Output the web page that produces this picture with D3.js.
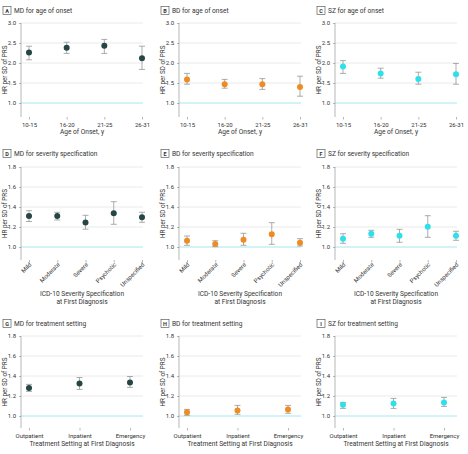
<!DOCTYPE html>
<html><head><meta charset="utf-8">
<script src="https://cdn.jsdelivr.net/npm/d3@7"></script>
<style>body{margin:0;background:#fff}svg{display:block}text{font-family:Roboto,"Liberation Sans",sans-serif;fill:#333}</style>
</head><body><div id="c"></div>
<script>
const ageCats = ["10-15","16-20","21-25","26-31"];
const sevCats = ["Mild","Moderate","Severe","Psychotic","Unspecified"];
const setCats = ["Outpatient","Inpatient","Emergency"];

const mdAge = [2.26,2.38,2.43,2.12], mdAgeLo=[2.08,2.24,2.24,1.84], mdAgeHi=[2.42,2.52,2.59,2.42];
const bdAge = [1.59,1.47,1.47,1.40], bdAgeLo=[1.47,1.37,1.34,1.17], bdAgeHi=[1.74,1.59,1.61,1.67];
const szAge = [1.91,1.74,1.60,1.72], szAgeLo=[1.74,1.62,1.47,1.47], szAgeHi=[2.06,1.87,1.77,1.99];

const mdSev = [1.31,1.31,1.245,1.337,1.297], mdSevLo=[1.255,1.27,1.178,1.227,1.247], mdSevHi=[1.363,1.347,1.317,1.453,1.347];
const bdSev = [1.063,1.03,1.073,1.127,1.043], bdSevLo=[1.017,1.003,1.017,1.027,1.01], bdSevHi=[1.11,1.063,1.137,1.243,1.083];
const szSev = [1.083,1.133,1.113,1.203,1.113], szSevLo=[1.037,1.097,1.047,1.097,1.067], szSevHi=[1.133,1.167,1.177,1.313,1.157];

const mdSet = [1.279,1.326,1.336], mdSetLo=[1.246,1.266,1.286], mdSetHi=[1.316,1.385,1.395];
const bdSet = [1.037,1.056,1.066], bdSetLo=[1.007,1.017,1.027], bdSetHi=[1.066,1.106,1.106];
const szSet = [1.113,1.126,1.136], szSetLo=[1.076,1.076,1.096], szSetHi=[1.136,1.176,1.186];

const ageTicks=[1.0,1.5,2.0,2.5,3.0];
const smallTicks=[1.0,1.2,1.4,1.6,1.8];

const colMD="#264545", colBD="#ee8c22", colSZ="#2fe0ea";

const panels = [
 {L:"A",t:"MD for age of onset",cats:ageCats,v:mdAge,lo:mdAgeLo,hi:mdAgeHi,c:colMD,row:0,col:0},
 {L:"B",t:"BD for age of onset",cats:ageCats,v:bdAge,lo:bdAgeLo,hi:bdAgeHi,c:colBD,row:0,col:1},
 {L:"C",t:"SZ for age of onset",cats:ageCats,v:szAge,lo:szAgeLo,hi:szAgeHi,c:colSZ,row:0,col:2},
 {L:"D",t:"MD for severity specification",cats:sevCats,v:mdSev,lo:mdSevLo,hi:mdSevHi,c:colMD,row:1,col:0},
 {L:"E",t:"BD for severity specification",cats:sevCats,v:bdSev,lo:bdSevLo,hi:bdSevHi,c:colBD,row:1,col:1},
 {L:"F",t:"SZ for severity specification",cats:sevCats,v:szSev,lo:szSevLo,hi:szSevHi,c:colSZ,row:1,col:2},
 {L:"G",t:"MD for treatment setting",cats:setCats,v:mdSet,lo:mdSetLo,hi:mdSetHi,c:colMD,row:2,col:0},
 {L:"H",t:"BD for treatment setting",cats:setCats,v:bdSet,lo:bdSetLo,hi:bdSetHi,c:colBD,row:2,col:1},
 {L:"I",t:"SZ for treatment setting",cats:setCats,v:szSet,lo:szSetLo,hi:szSetHi,c:colSZ,row:2,col:2},
];

const rows = [
 {titleY:11, top:23, ref:103, bottom:117, dom:[0.65,3.0], ticks:ageTicks, xlab:["Age of Onset, y"], labY:125, xtY:134, rot:false, padR:1},
 {titleY:154, top:167, ref:247, bottom:260, dom:[0.87,1.8], ticks:smallTicks, xlab:["ICD-10 Severity Specification","at First Diagnosis"], rot:true, xtY:296, padR:1},
 {titleY:324, top:336, ref:416, bottom:428, dom:[0.88,1.8], ticks:smallTicks, xlab:["Treatment Setting at First Diagnosis"], labY:436, xtY:446, rot:false, padR:13},
];
const colX=[21,179,335];
const plotW=122;
const fmt=d3.format(".1f");

const svg=d3.select("#c").append("svg").attr("width",468).attr("height",454);

panels.forEach(p=>{
  const r=rows[p.row], x0=colX[p.col];
  const g=svg.append("g");
  const y=d3.scaleLinear().domain(r.dom).range([r.bottom,r.bottom-(r.bottom-r.ref)*(r.dom[1]-r.dom[0])/(1-r.dom[0])]);
  const x=d3.scalePoint().domain(p.cats).range([x0+8,x0+plotW-r.padR]);
  const tx=x0-18;
  g.append("rect").attr("x",tx).attr("y",r.titleY-4.5).attr("width",8).attr("height",8).attr("fill","#fff").attr("stroke","#444").attr("stroke-width",0.6);
  g.append("text").attr("x",tx+4).attr("y",r.titleY+2.3).attr("text-anchor","middle").attr("font-size",5.5).attr("font-weight","bold").text(p.L);
  g.append("text").attr("x",tx+11).attr("y",r.titleY+2.3).attr("font-size",6.6).text(p.t);
  g.selectAll(".grid").data(r.ticks.filter(t=>t!==1)).enter().append("line")
    .attr("x1",x0).attr("x2",x0+plotW).attr("y1",d=>y(d)).attr("y2",d=>y(d)).attr("stroke","#e4e4e4").attr("stroke-width",0.8);
  g.append("line").attr("x1",x0).attr("x2",x0+plotW).attr("y1",y(1)).attr("y2",y(1)).attr("stroke","#a6e6ee").attr("stroke-width",1);
  const ya=g.append("g").attr("transform",`translate(${x0},0)`).call(d3.axisLeft(y).tickValues(r.ticks).tickFormat(fmt).tickSize(2).tickPadding(3));
  ya.select(".domain").attr("d",`M-0,${y(r.dom[1])}V${r.bottom}`).attr("stroke","#888").attr("stroke-width",0.6);
  ya.selectAll(".tick line").attr("stroke","#888").attr("stroke-width",0.6);
  ya.selectAll(".tick text").attr("font-size",6).attr("font-family","Roboto,sans-serif").attr("fill","#333");
  g.append("text").attr("transform",`translate(${x0-14},${(r.top+r.bottom)/2}) rotate(-90)`).attr("text-anchor","middle").attr("font-size",6.3).text("HR per SD of PRS");
  const xa=g.append("g").attr("transform",`translate(0,${r.bottom})`).call(d3.axisBottom(x).tickSize(2.5).tickPadding(3));
  xa.select(".domain").remove();
  xa.selectAll(".tick line").attr("stroke","#888").attr("stroke-width",0.6);
  const tt=xa.selectAll(".tick text").attr("font-size",6).attr("font-family","Roboto,sans-serif").attr("fill","#333");
  if(r.rot){
    tt.attr("text-anchor","end").attr("dy",null).attr("y",0).attr("transform","translate(2.5,5) rotate(-45)");
  } else {
    tt.attr("y",r.labY-r.bottom-2);
  }
  r.xlab.forEach((s,i)=>{
    g.append("text").attr("x",x0+plotW/2).attr("y",r.xtY+i*7.5).attr("text-anchor","middle").attr("font-size",6.6).text(s);
  });
  const d=p.cats.map((c,i)=>({c,v:p.v[i],lo:p.lo[i],hi:p.hi[i]}));
  const eb=g.selectAll(".eb").data(d).enter().append("g").attr("stroke","#8a8a8a").attr("stroke-width",0.7);
  eb.append("line").attr("x1",e=>x(e.c)).attr("x2",e=>x(e.c)).attr("y1",e=>y(e.lo)).attr("y2",e=>y(e.hi));
  eb.append("line").attr("x1",e=>x(e.c)-3).attr("x2",e=>x(e.c)+3).attr("y1",e=>y(e.lo)).attr("y2",e=>y(e.lo));
  eb.append("line").attr("x1",e=>x(e.c)-3).attr("x2",e=>x(e.c)+3).attr("y1",e=>y(e.hi)).attr("y2",e=>y(e.hi));
  g.selectAll(".pt").data(d).enter().append("circle").attr("cx",e=>x(e.c)).attr("cy",e=>y(e.v)).attr("r",3).attr("fill",p.c);
});
</script></body></html>
